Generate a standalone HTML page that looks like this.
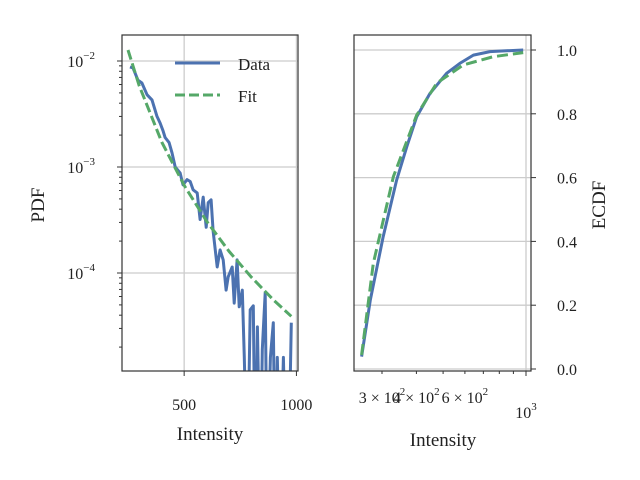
<!DOCTYPE html>
<html><head><meta charset="utf-8"><style>
html,body{margin:0;padding:0;background:#fff;}
svg{display:block;font-family:"Liberation Serif",serif;}
</style></head><body>
<svg id="c" width="640" height="480" viewBox="0 0 640 480"></svg>
<script>
const pdfX=[259,272,294,312,335,357,379,393,406,415,433,446,460,482,495,513,527,540,558,571,585,598,607,620,629,647,660,674,687,696,714,723,736,745,759,768,781,794,808,817,826,839,848,861,870,884,897,906,915,928,942,955,964,977];
const pdfY=[8.8e-3,8.6e-3,6.6e-3,6.2e-3,4.8e-3,4.3e-3,3.0e-3,2.6e-3,2.2e-3,1.9e-3,1.7e-3,1.36e-3,1.0e-3,8.8e-4,6.8e-4,7.6e-4,7.3e-4,6.1e-4,5.7e-4,3.2e-4,5.2e-4,2.7e-4,4.6e-4,4.9e-4,2.5e-4,1.14e-4,1.65e-4,1.33e-4,6.9e-5,9.2e-5,1.14e-4,5.2e-5,1.33e-4,4.8e-5,6.9e-5,1.6e-5,1e-6,4.5e-5,4.9e-5,1e-6,3.1e-5,1e-6,1.9e-5,6.5e-5,1e-6,1.6e-5,3.4e-5,1e-6,1.6e-5,1e-6,1.6e-5,1e-6,1e-6,3.4e-5];
const fitX=[250,300,400,500,600,700,800,900,977];
const fitY=[1.27e-2,5.85e-3,1.72e-3,6.7e-4,3.08e-4,1.6e-4,9.1e-5,5.5e-5,3.9e-5];
const ecdfX=[253,272,303,339,369,401,448,515,575,644,740,977];
const ecdfY=[0.039,0.216,0.415,0.592,0.697,0.791,0.864,0.927,0.958,0.984,0.995,1.0];
const cdfFitX=[253,279,330,401,474,591,760,977];
const cdfFitY=[0.044,0.331,0.603,0.796,0.896,0.953,0.979,0.992];
const pdfYTicks=[-2,-3,-4];
const pdfXTicks=[500,1000];
const ecdfYTicks=[0,0.2,0.4,0.6,0.8,1.0];

const NS="http://www.w3.org/2000/svg";
const svg=document.getElementById('c');
function el(t,a,p){const e=document.createElementNS(NS,t);for(const k in a)e.setAttribute(k,a[k]);(p||svg).appendChild(e);return e;}
const L={x0:122,x1:298,y0:35,y1:371};
const lx=v=>L.x0+(v-223.2)*(L.x1-L.x0)/(1007-223.2);
const ly=v=>61+(-2-Math.log10(v))*106;
const R={x0:354,x1:531,y0:35,y1:371};
const rx=v=>526-(3-Math.log10(v))*275.4;
const ry=v=>369-v*319;

const defs=el('defs',{});
const cp1=el('clipPath',{id:'cl'},defs);el('rect',{x:L.x0,y:L.y0,width:L.x1-L.x0,height:L.y1-L.y0},cp1);
const cp2=el('clipPath',{id:'cr'},defs);el('rect',{x:R.x0,y:R.y0,width:R.x1-R.x0,height:R.y1-R.y0},cp2);

const lg=el('g',{});

pdfYTicks.forEach(d=>{const y=ly(Math.pow(10,d));el('line',{x1:L.x0,x2:L.x1,y1:y,y2:y,stroke:'#cccccc','stroke-width':1.3},lg);});
pdfXTicks.forEach(v=>{const x=lx(v);el('line',{x1:x,x2:x,y1:L.y0,y2:L.y1,stroke:'#cccccc','stroke-width':1.3},lg);});
const rg=el('g',{});

ecdfYTicks.forEach(v=>{const y=ry(v);el('line',{x1:R.x0,x2:R.x1,y1:y,y2:y,stroke:'#cccccc','stroke-width':1.3},rg);});
el('line',{x1:rx(1000),x2:rx(1000),y1:R.y0,y2:R.y1,stroke:'#cccccc','stroke-width':1.3},rg);

function path(xs,ys,fx,fy){return xs.map((v,i)=>(i?'L':'M')+fx(v).toFixed(1)+','+fy(ys[i]).toFixed(1)).join(' ');}
const p1=el('path',{d:path(pdfX,pdfY,lx,ly),fill:'none',stroke:'#4c72b0','stroke-width':3,'stroke-linejoin':'round','clip-path':'url(#cl)'});

const p2=el('path',{d:path(fitX,fitY,lx,ly),fill:'none',stroke:'#55a868','stroke-width':3,'stroke-dasharray':'10,4','clip-path':'url(#cl)'});

const p3=el('path',{d:path(ecdfX,ecdfY,rx,ry),fill:'none',stroke:'#4c72b0','stroke-width':3,'stroke-linejoin':'round','clip-path':'url(#cr)'});

const p4=el('path',{d:path(cdfFitX,cdfFitY,rx,ry),fill:'none',stroke:'#55a868','stroke-width':3,'stroke-dasharray':'11,5','clip-path':'url(#cr)'});


const f1=el('rect',{x:L.x0,y:L.y0,width:L.x1-L.x0,height:L.y1-L.y0,fill:'none',stroke:'#333','stroke-width':1.2});

const f2=el('rect',{x:R.x0,y:R.y0,width:R.x1-R.x0,height:R.y1-R.y0,fill:'none',stroke:'#333','stroke-width':1.2});


const lt=el('g',{stroke:'#333','stroke-width':1});

for(let d=-5;d<=-2;d++){for(let m=1;m<10;m++){const v=m*Math.pow(10,d);const y=ly(v);if(y<L.y0||y>L.y1)continue;el('line',{x1:L.x0,x2:L.x0-(m==1?5:3),y1:y,y2:y},lt);}}
pdfXTicks.forEach(v=>{const x=lx(v);el('line',{x1:x,x2:x,y1:L.y1,y2:L.y1+5},lt);});
pdfYTicks.forEach(d=>{const t=el('text',{x:95,y:ly(Math.pow(10,d))+6,'text-anchor':'end','font-size':16,fill:'#222'});

t.appendChild(document.createTextNode('10'));const s=el('tspan',{dy:-8,'font-size':11},t);s.textContent='\u2212'+(-d);});
pdfXTicks.forEach(v=>{const t=el('text',{x:lx(v),y:410,'text-anchor':'middle','font-size':16,fill:'#222'});t.textContent=v;
});

const rt=el('g',{stroke:'#333','stroke-width':1});

ecdfYTicks.forEach(v=>{const y=ry(v);el('line',{x1:R.x1,x2:R.x1+5,y1:y,y2:y},rt);
const t=el('text',{x:557,y:y+6,'font-size':16,fill:'#222'});t.textContent=v.toFixed(1);
});
for(let m=3;m<=10;m++){const x=rx(m*100);el('line',{x1:x,x2:x,y1:R.y1,y2:R.y1+(m==10?5:3)},rt);}
[[3,'3 \u00d7 10'],[4,'4 \u00d7 10'],[6,'6 \u00d7 10']].forEach(([m,s])=>{const t=el('text',{x:rx(m*100),y:403,'text-anchor':'middle','font-size':16,fill:'#222'});

t.appendChild(document.createTextNode(s));const sp=el('tspan',{dy:-8,'font-size':11},t);sp.textContent='2';});
const t3=el('text',{x:rx(1000),y:418,'text-anchor':'middle','font-size':16,fill:'#222'});

t3.appendChild(document.createTextNode('10'));const s3=el('tspan',{dy:-8,'font-size':11},t3);s3.textContent='3';

function title(x,y,txt,name,rot){const t=el('text',{x:x,y:y,'text-anchor':'middle','font-size':19,fill:'#222'});if(rot)t.setAttribute('transform','rotate(-90 '+x+' '+y+')');t.textContent=txt;
}
title(210,440,'Intensity','pdf-x-axis-title');
title(443,446,'Intensity','ecdf-x-axis-title');
title(44,205,'PDF','pdf-y-axis-title',true);
title(605,205,'ECDF','ecdf-y-axis-title',true);

const lgd=el('g',{});

const e1=el('g',{},lgd);
el('line',{x1:175,x2:220,y1:63,y2:63,stroke:'#4c72b0','stroke-width':3},e1);
const lt1=el('text',{x:238,y:70,'font-size':17,fill:'#222'},e1);lt1.textContent='Data';
const e2=el('g',{},lgd);
el('line',{x1:175,x2:220,y1:95,y2:95,stroke:'#55a868','stroke-width':3,'stroke-dasharray':'10,4'},e2);
const lt2=el('text',{x:238,y:102,'font-size':17,fill:'#222'},e2);lt2.textContent='Fit';
</script>
</body></html>
